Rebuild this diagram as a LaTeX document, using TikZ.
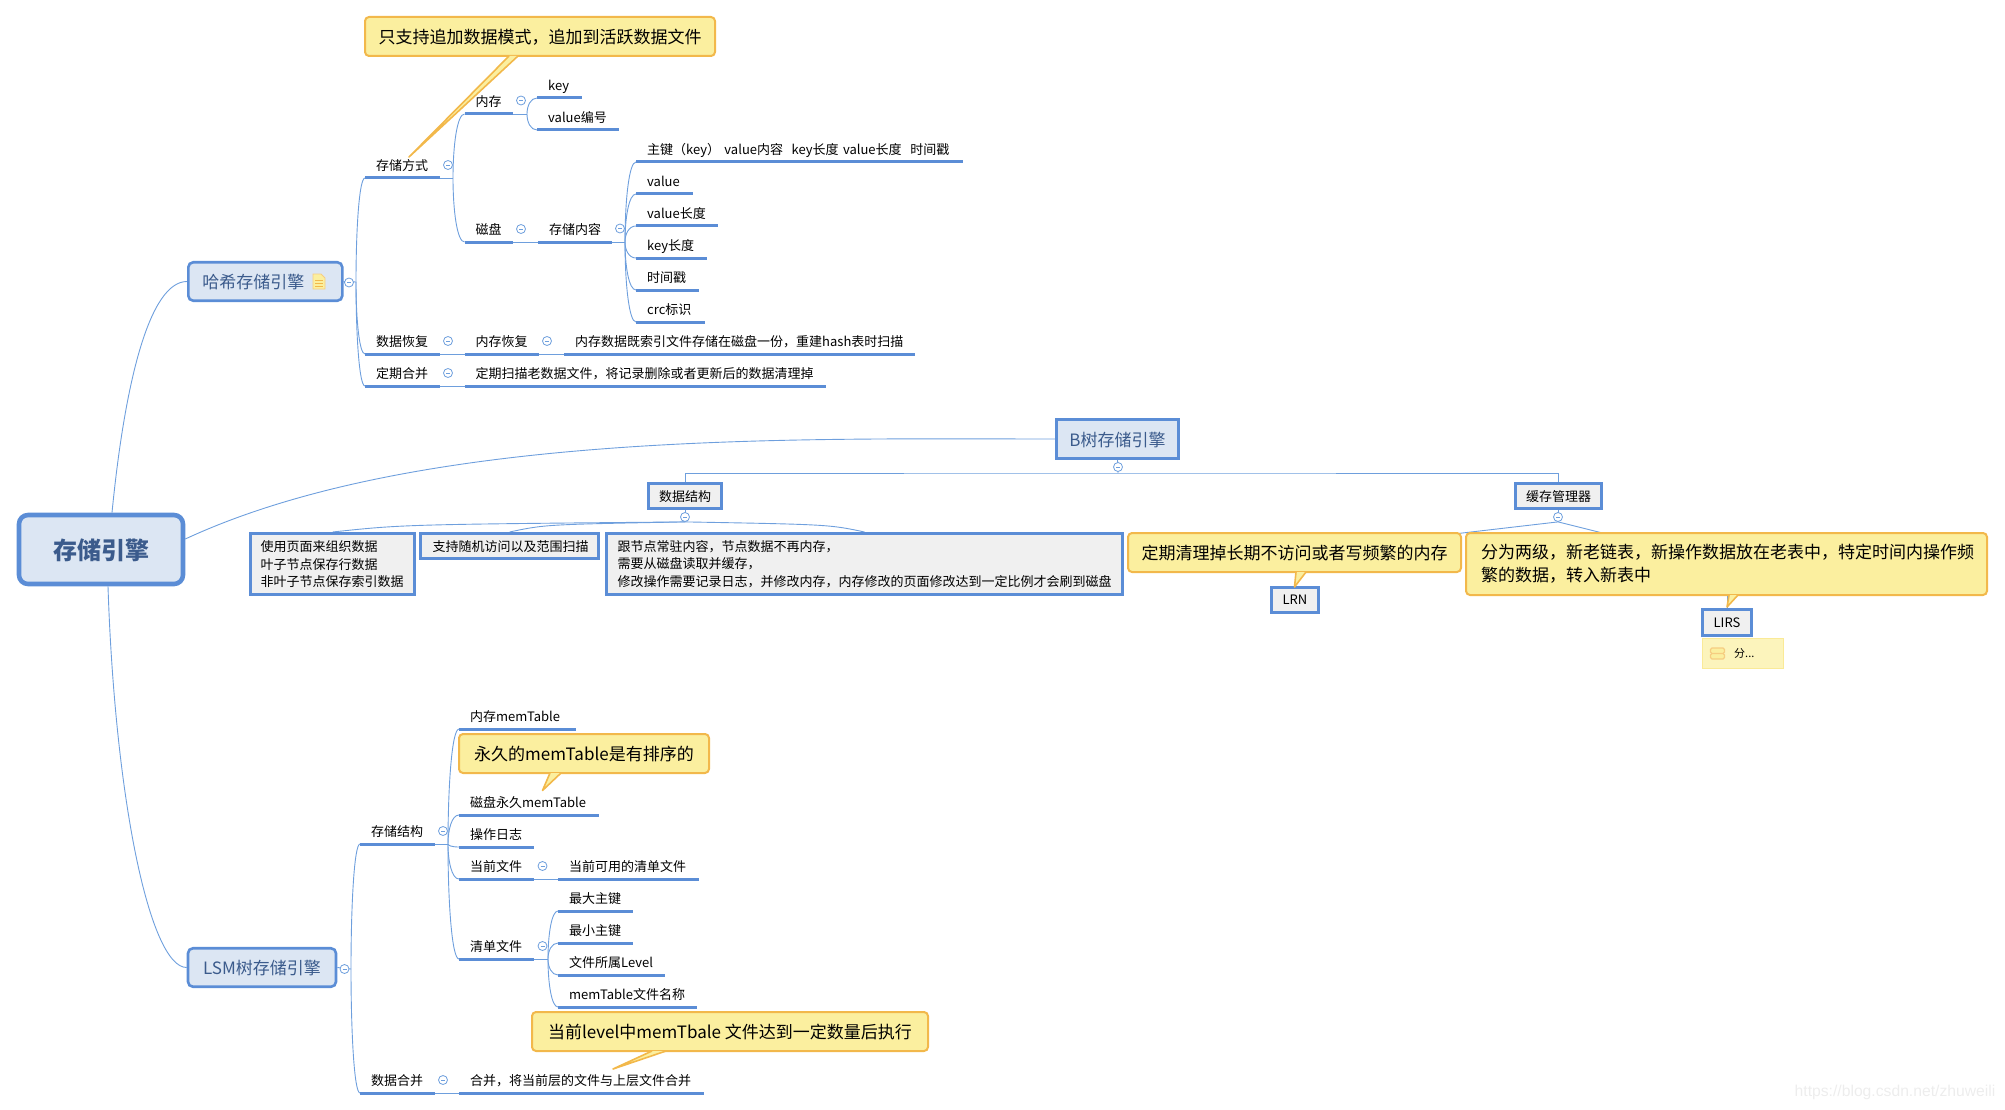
\documentclass[tikz,border=0pt]{standalone}
\usepackage{fontspec}
\setmainfont{Noto Sans CJK SC}
\newfontfamily\markfont{Liberation Sans}
\usetikzlibrary{backgrounds,calc}
\definecolor{linkblue}{HTML}{6E9FDD}
\definecolor{barblue}{HTML}{5B8DD6}
\definecolor{topicfill}{HTML}{DCE6F3}
\definecolor{topictext}{HTML}{3B5B8C}
\definecolor{boxfill}{HTML}{F0F0F0}
\definecolor{notefill}{HTML}{FBEF9F}
\definecolor{noteline}{HTML}{F2B84B}
\tikzset{
  link/.style={draw=linkblue,line width=0.9pt},
  bar/.style={draw=barblue,line width=3pt},
  forked/.style={to path={.. controls ($(\tikztostart)!.5!(\tikztostart |- \tikztotarget)$) and ($(\tikztostart |- \tikztotarget)!.35!(\tikztotarget)$) .. (\tikztotarget)}},
  branch/.style={anchor=south west,text width=#1pt,align=left,inner xsep=11pt,inner ysep=4.5pt,
    text height=9.5pt,text depth=3pt,font=\fontsize{13}{16}\selectfont,
    append after command={(\tikzlastnode.south west) edge[bar] (\tikzlastnode.south east)}},
  fold/.style={circle,draw=linkblue,fill=white,line width=0.8pt,minimum size=9pt,inner sep=0pt,
    path picture={\draw[linkblue,line width=0.7pt] ([xshift=2.5pt]path picture bounding box.west) -- ([xshift=-2.5pt]path picture bounding box.east);}},
  topic/.style={draw=barblue,fill=topicfill,text=topictext,line width=2.6pt,inner sep=0pt,text depth=0pt,font=\fontsize{17}{20}\selectfont},
  smallbox/.style={draw=barblue,fill=boxfill,line width=3.2pt,inner sep=0pt,text depth=0pt,font=\fontsize{13}{16}\selectfont},
  textbox/.style={smallbox,anchor=north west,align=left,text depth={},font=\fontsize{13}{17.5}\selectfont},
  callout/.style={draw=noteline,fill=notefill,line width=2pt,rounded corners=4pt,inner sep=0pt,text depth=0pt,font=\fontsize{17}{23}\selectfont},
  calltail/.style={draw=noteline,fill=notefill,line width=1.6pt,line join=round}
}
\begin{document}
\begin{tikzpicture}[x=1pt,y=-1pt]
  \useasboundingbox (0,0) rectangle (2005,1110);

  \node[draw=barblue,fill=topicfill,text=topictext,line width=4.6pt,rounded corners=9pt,inner sep=0pt,text depth=0pt,minimum width=164pt,minimum height=69pt,font=\fontsize{24}{28}\selectfont\bfseries] (root) at (101,549.5) {存储引擎};

  \node[topic,rounded corners=5pt,anchor=west,align=left,text width=126pt,inner xsep=14pt,minimum height=38.5pt] (hash) at (187,281.5) {哈希存储引擎};
  \fill[notefill,draw=noteline!70,line width=0.8pt] (313,274) -- (321,274) -- (325,278) -- (325,289) -- (313,289) -- cycle;
  \draw[noteline,line width=0.9pt] (315,280) -- (323,280) (315,283) -- (323,283) (315,286) -- (323,286);
  \node[fold] (hashfold) at (349,282.5) {};
  \coordinate (hashfork) at (356,282);

  \node[branch=53] (store) at (365,178) {存储方式};
  \node[fold] (storefold) at (448,165) {};
  \coordinate (storefork) at (453,178);
  \node[branch=26.5] (mem) at (464.5,114) {内存};
  \node[fold] (memfold) at (521,100.5) {};
  \coordinate (memfork) at (527,114);
  \node[branch=23] (key) at (537,98) {key};
  \node[branch=60] (valno) at (537,130) {value编号};
  \node[branch=26.5] (disk) at (464.5,242) {磁盘};
  \node[fold] (diskfold) at (521,229) {};
  \node[branch=52] (content) at (538,242) {存储内容};
  \node[fold] (contentfold) at (620,228.5) {};
  \coordinate (contentfork) at (625,242);
  \node[branch=304.5] (record) at (636,162) {主键（key） value内容~~key长度 value长度~~时间戳};
  \node[branch=35] (val) at (636,194) {value};
  \node[branch=59.5] (vallen) at (636,226) {value长度};
  \node[branch=48.5] (keylen) at (636,258) {key长度};
  \node[branch=41] (stamp) at (636,290) {时间戳};
  \node[branch=46.5] (crc) at (636,322) {crc标识};
  \node[branch=53] (recover) at (365,354) {数据恢复};
  \node[fold] (recoverfold) at (448,341) {};
  \node[branch=52.5] (memrec) at (464.5,354) {内存恢复};
  \node[fold] (memrecfold) at (547,341) {};
  \node[branch=329] (rebuild) at (564,354) {内存数据既索引文件存储在磁盘一份，重建hash表时扫描};
  \node[branch=53] (merge) at (365,386) {定期合并};
  \node[fold] (mergefold) at (448,373) {};
  \node[branch=339.5] (scan) at (464.5,386) {定期扫描老数据文件，将记录删除或者更新后的数据清理掉};

  \node[callout,minimum width=350pt,minimum height=39pt] (callappend) at (540,36.5) {只支持追加数据模式，追加到活跃数据文件};
  \coordinate (tipappend) at (409,157);
  \draw[calltail] (509,56) -- (tipappend) -- (518,56);

  \node[topic,minimum width=122.5pt,minimum height=39.5pt] (btree) at (1117.5,439) {B树存储引擎};
  \node[fold] (btreefold) at (1118,467) {};
  \coordinate (btreebar) at (1118,473);
  \node[smallbox,minimum width=73pt,minimum height=25pt] (layout) at (685,496) {数据结构};
  \node[fold] (layoutfold) at (685,517) {};
  \node[smallbox,minimum width=86pt,minimum height=25pt] (cache) at (1558.5,496) {缓存管理器};
  \node[fold] (cachefold) at (1558,517) {};

  \node[textbox,text width=144pt,inner xsep=10pt,minimum height=61pt] (pages) at (249,532) {使用页面来组织数据\\叶子节点保存行数据\\非叶子节点保存索引数据};
  \node[textbox,text width=154pt,inner xsep=12pt,minimum height=25pt] (scanbox) at (419,532) {支持随机访问以及范围扫描};
  \node[textbox,text width=494pt,inner xsep=11pt,minimum height=61pt] (resident) at (605,532) {跟节点常驻内容，节点数据不再内存，\\需要从磁盘读取并缓存，\\修改操作需要记录日志，并修改内存，内存修改的页面修改达到一定比例才会刷到磁盘};

  \node[callout,minimum width=333pt,minimum height=39pt] (callclean) at (1294.5,552.5) {定期清理掉长期不访问或者写频繁的内存};
  \node[smallbox,minimum width=47pt,minimum height=25pt] (lrn) at (1295,600) {LRN};
  \coordinate (tipclean) at (1294.5,587);
  \draw[calltail] (1296,572) -- (tipclean) -- (1306,572);
  \node[callout,anchor=north west,align=left,text depth={},text width=491pt,inner xsep=15pt,minimum height=62pt] (calltwo) at (1465,532) {分为两级，新老链表，新操作数据放在老表中，特定时间内操作频\\繁的数据，转入新表中};
  \node[smallbox,minimum width=49pt,minimum height=26pt] (lirs) at (1727,622.5) {LIRS};
  \coordinate (tiptwo) at (1727,607);
  \draw[calltail] (1729,595) -- (tiptwo) -- (1738,595);
  \node[draw=notefill!90!noteline,fill=notefill!70!white,line width=1pt,anchor=north west,minimum width=81pt,minimum height=30pt,inner sep=0pt] (tipbox) at (1701.5,638) {};
  \draw[fill=notefill,draw=noteline!70,line width=1.2pt,rounded corners=1.5pt] (1710.5,648) rectangle (1724.5,653.5) (1710.5,653.5) rectangle (1724.5,659);
  \node[anchor=west,inner sep=0pt,font=\fontsize{11}{13}\selectfont] (tiptext) at (1734,653) {分...};

  \node[topic,rounded corners=5pt,minimum width=148pt,minimum height=38.5pt] (lsm) at (262,967.5) {LSM树存储引擎};
  \node[fold] (lsmfold) at (344.5,969) {};
  \coordinate (lsmfork) at (351,969);

  \node[branch=53] (lsmstore) at (360,844) {存储结构};
  \node[fold] (lsmstorefold) at (443,831) {};
  \coordinate (lsmstorefork) at (448,844);
  \node[branch=94.6] (memtab) at (459,729) {内存memTable};
  \node[branch=117.6] (disktab) at (459,815) {磁盘永久memTable};
  \node[branch=53] (oplog) at (459,847) {操作日志};
  \node[branch=53] (curfile) at (459,879) {当前文件};
  \node[fold] (curfilefold) at (542.5,866) {};
  \node[branch=118.6] (avail) at (558,879) {当前可用的清单文件};
  \node[branch=53] (manifest) at (459,959) {清单文件};
  \node[fold] (manifestfold) at (542.5,946) {};
  \coordinate (manifestfork) at (548,959);
  \node[branch=53] (maxkey) at (558,911) {最大主键};
  \node[branch=53] (minkey) at (558,943) {最小主键};
  \node[branch=85] (level) at (558,975) {文件所属Level};
  \node[branch=116.5] (tabname) at (558,1007) {memTable文件名称};
  \node[branch=53] (lsmmerge) at (360,1093) {数据合并};
  \node[fold] (lsmmergefold) at (443,1080) {};
  \node[branch=222.7] (mergetxt) at (459,1093) {合并，将当前层的文件与上层文件合并};

  \node[callout,minimum width=250pt,minimum height=39pt] (callsort) at (584,753.5) {永久的memTable是有排序的};
  \coordinate (tipsort) at (542.5,790.5);
  \draw[calltail] (550,773) -- (tipsort) -- (561,773);
  \node[callout,minimum width=396pt,minimum height=39pt] (calllevel) at (730,1031.5) {当前level中memTbale 文件达到一定数量后执行};
  \coordinate (tiplevel) at (613,1069);
  \draw[calltail] (652,1051) -- (tiplevel) -- (666,1051);

  \node[text=black!7,inner sep=0pt,font=\markfont\fontsize{15.7}{18}\selectfont] (mark) at (1895,1092) {https://blog.csdn.net/zhuweili};

  \begin{pgfonlayer}{background}
    \draw[link] ([xshift=11pt]root.north) .. controls (125,380) and (150,281.5) .. (hash.west);
    \draw[link] ([yshift=10.5pt]root.east) .. controls (420,430) and (800,439) .. (btree.west);
    \draw[link] ([xshift=7pt]root.south) .. controls (115,800) and (150,967.5) .. (lsm.west);
    \draw[link] (hash.east) -- (hashfork);
    \draw[link] (lsm.east) -- (lsmfork);
    \foreach \n in {store,recover,merge}
      \draw[link] (hashfork) to[forked] (\n.south west);
    \draw[link] (store.south east) -- (storefork);
    \foreach \n in {mem,disk}
      \draw[link] (storefork) to[forked] (\n.south west);
    \draw[link] (mem.south east) -- (memfork);
    \foreach \n in {key,valno}
      \draw[link] (memfork) to[forked] (\n.south west);
    \draw[link] (disk.south east) -- (content.south west);
    \draw[link] (content.south east) -- (contentfork);
    \foreach \n in {record,val,vallen,keylen,stamp,crc}
      \draw[link] (contentfork) to[forked] (\n.south west);
    \draw[link] (recover.south east) -- (memrec.south west);
    \draw[link] (memrec.south east) -- (rebuild.south west);
    \draw[link] (merge.south east) -- (scan.south west);
    \draw[link] (btree.south) -- (btreebar);
    \draw[link] (layout.north) |- (btreebar) -| (cache.north);
    \draw[link] (layout.south) -- (layoutfold.south);
    \draw[link] (cache.south) -- (cachefold.south);
    \foreach \n/\c in {pages/403,scanbox/545,resident/829}
      \draw[link] (layoutfold.south) .. controls (\c,524.5) .. (\n.north);
    \draw[link] (cachefold.south) -- (callclean.center);
    \draw[link] (cachefold.south) -- (calltwo.center);
    \draw[link] (callclean.south -| lrn.north) -- (lrn.north);
    \draw[link] (calltwo.south -| lirs.north) -- (lirs.north);
    \foreach \n in {lsmstore,lsmmerge}
      \draw[link] (lsmfork) to[forked] (\n.south west);
    \draw[link] (lsmstore.south east) -- (lsmstorefork);
    \foreach \n in {memtab,disktab,oplog,curfile,manifest}
      \draw[link] (lsmstorefork) to[forked] (\n.south west);
    \draw[link] (curfile.south east) -- (avail.south west);
    \draw[link] (manifest.south east) -- (manifestfork);
    \foreach \n in {maxkey,minkey,level,tabname}
      \draw[link] (manifestfork) to[forked] (\n.south west);
    \draw[link] (lsmmerge.south east) -- (mergetxt.south west);
  \end{pgfonlayer}
\end{tikzpicture}
\end{document}
